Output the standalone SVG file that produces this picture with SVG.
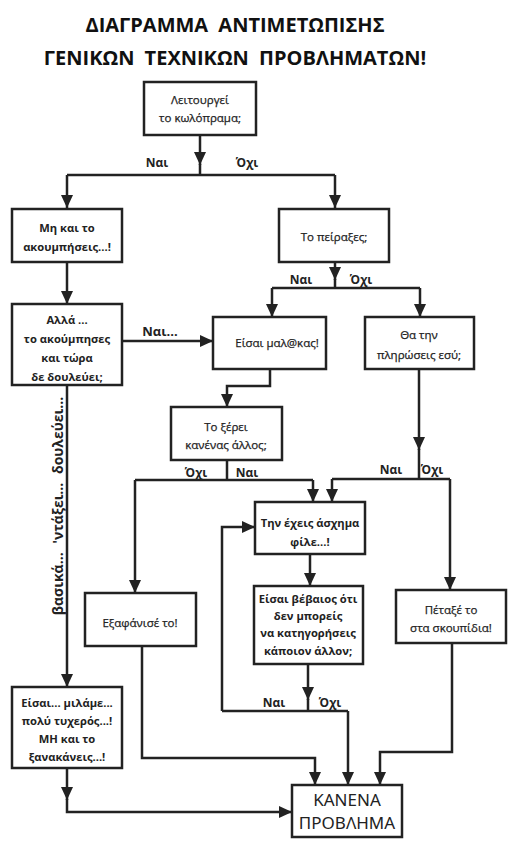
<svg xmlns="http://www.w3.org/2000/svg" width="516" height="850" viewBox="0 0 516 850">
<style>
.bx{fill:#fff;stroke:#222;stroke-width:2.5}
.t{font-family:"Open Sans","Noto Sans",sans-serif;font-size:11.5px;fill:#222;stroke:#222;stroke-width:0.25;text-anchor:middle}
.tb{font-family:"Open Sans","Noto Sans",sans-serif;font-size:11.2px;font-weight:bold;fill:#222;text-anchor:middle}
.lb{font-family:"Open Sans","Noto Sans",sans-serif;font-size:12px;font-weight:bold;fill:#222;text-anchor:middle}
.ttl{font-family:"Open Sans","Noto Sans",sans-serif;font-size:20px;font-weight:bold;fill:#111;text-anchor:middle;word-spacing:5px}
.big{font-family:"Noto Sans","Open Sans",sans-serif;font-size:17px;fill:#222;text-anchor:middle}
.c{fill:none;stroke:#222;stroke-width:2.5}
</style>
<defs>
<marker id="a" viewBox="0 0 13 12" refX="13" refY="6" markerWidth="13" markerHeight="12" markerUnits="userSpaceOnUse" orient="auto">
<path d="M0,0 L13,6 L0,12 z" fill="#222"/>
</marker>
</defs>
<rect width="516" height="850" fill="#fff"/>
<g id="title">
<text class="ttl" x="235" y="32">ΔΙΑΓΡΑΜΜΑ ΑΝΤΙΜΕΤΩΠΙΣΗΣ</text>
<text class="ttl" x="235" y="65">ΓΕΝΙΚΩΝ ΤΕΧΝΙΚΩΝ ΠΡΟΒΛΗΜΑΤΩΝ!</text>
</g>
<g id="connectors">
<path class="c" d="M200,135 V165" marker-end="url(#a)"/>
<path class="c" d="M200,164 V175 M67,175 H335"/>
<path class="c" d="M67,175 V208" marker-end="url(#a)"/>
<path class="c" d="M335,175 V208" marker-end="url(#a)"/>
<path class="c" d="M67,262 V304" marker-end="url(#a)"/>
<path class="c" d="M122,341 H213" marker-end="url(#a)"/>
<path class="c" d="M335,262 V280" marker-end="url(#a)"/>
<path class="c" d="M335,279 V288 M272,288 H420"/>
<path class="c" d="M272,288 V317" marker-end="url(#a)"/>
<path class="c" d="M420,288 V317" marker-end="url(#a)"/>
<path class="c" d="M270,369 V386 H227 V407" marker-end="url(#a)"/>
<path class="c" d="M227,460 V480 M135,480 H313"/>
<path class="c" d="M135,480 V593" marker-end="url(#a)"/>
<path class="c" d="M313,480 V502" marker-end="url(#a)"/>
<path class="c" d="M419,369 V450" marker-end="url(#a)"/>
<path class="c" d="M419,449 V479 M332,479 H450"/>
<path class="c" d="M332,479 V502" marker-end="url(#a)"/>
<path class="c" d="M450,479 V590" marker-end="url(#a)"/>
<path class="c" d="M310,554 V586" marker-end="url(#a)"/>
<path class="c" d="M308,664 V700" marker-end="url(#a)"/>
<path class="c" d="M308,699 V711 M222,711 H348"/>
<path class="c" d="M222,711 V527 H255" marker-end="url(#a)"/>
<path class="c" d="M348,711 V785" marker-end="url(#a)"/>
<path class="c" d="M142,646 V758 H315 V785" marker-end="url(#a)"/>
<path class="c" d="M452,643 V752 H380 V785" marker-end="url(#a)"/>
<path class="c" d="M67,385 V687" marker-end="url(#a)"/>
<path class="c" d="M67,768 V800" marker-end="url(#a)"/>
<path class="c" d="M67,799 V812 H292" marker-end="url(#a)"/>
<text class="lb" x="157" y="167">Ναι</text>
<text class="lb" x="247" y="167">Όχι</text>
<text class="lb" x="160" y="336" style="font-size:13px">Ναι...</text>
<text class="lb" x="301" y="284">Ναι</text>
<text class="lb" x="361" y="284">Όχι</text>
<text class="lb" x="196" y="477">Όχι</text>
<text class="lb" x="247" y="477">Ναι</text>
<text class="lb" x="391" y="474">Ναι</text>
<text class="lb" x="432" y="474">Όχι</text>
<text class="lb" x="274" y="707">Ναι</text>
<text class="lb" x="330" y="707">Όχι</text>
<text class="lb" transform="translate(63,506) rotate(-90)" style="font-size:14px;word-spacing:5px">βασικά... 'ντάξει... δουλεύει...</text>
</g>
<g id="n1"><rect class="bx" x="144" y="82" width="112" height="53"/>
<text class="t" x="200" y="104">Λειτουργεί</text><text class="t" x="200" y="122">το κωλόπραμα;</text></g>
<g id="n2"><rect class="bx" x="12" y="209" width="110" height="53"/>
<text class="tb" x="67" y="232">Μη και το</text><text class="tb" x="67" y="251">ακουμπήσεις...!</text></g>
<g id="n3"><rect class="bx" x="279" y="209" width="110" height="53"/>
<text class="t" x="334" y="241">Το πείραξες;</text></g>
<g id="n4"><rect class="bx" x="12" y="304" width="110" height="81"/>
<text class="tb" x="67" y="324">Αλλά ...</text><text class="tb" x="67" y="343">το ακούμπησες</text><text class="tb" x="67" y="362">και τώρα</text><text class="tb" x="67" y="381">δε δουλεύει;</text></g>
<g id="n5"><rect class="bx" x="213" y="317" width="113" height="52"/>
<text class="t" x="277" y="347">Είσαι μαλ@κας!</text></g>
<g id="n6"><rect class="bx" x="365" y="317" width="109" height="52"/>
<text class="t" x="419" y="339">Θα την</text><text class="t" x="419" y="359">πληρώσεις εσύ;</text></g>
<g id="n7"><rect class="bx" x="171" y="407" width="111" height="53"/>
<text class="t" x="226" y="431">Το ξέρει</text><text class="t" x="226" y="449">κανένας άλλος;</text></g>
<g id="n8"><rect class="bx" x="255" y="502" width="110" height="52"/>
<text class="tb" x="310" y="527">Την έχεις άσχημα</text><text class="tb" x="310" y="546">φίλε...!</text></g>
<g id="n9"><rect class="bx" x="85" y="593" width="111" height="53"/>
<text class="t" x="140" y="627">Εξαφάνισέ το!</text></g>
<g id="n10"><rect class="bx" x="254" y="586" width="109" height="78"/>
<text class="tb" x="308" y="603">Είσαι βέβαιος ότι</text><text class="tb" x="308" y="620">δεν μπορείς</text><text class="tb" x="308" y="637">να κατηγορήσεις</text><text class="tb" x="308" y="655">κάποιον άλλον;</text></g>
<g id="n11"><rect class="bx" x="396" y="590" width="110" height="53"/>
<text class="t" x="451" y="614">Πέταξέ το</text><text class="t" x="451" y="632">στα σκουπίδια!</text></g>
<g id="n12"><rect class="bx" x="12" y="687" width="110" height="81"/>
<text class="tb" x="67" y="707">Είσαι... μιλάμε...</text><text class="tb" x="67" y="725">πολύ τυχερός...!</text><text class="tb" x="67" y="743">ΜΗ και το</text><text class="tb" x="67" y="761">ξανακάνεις...!</text></g>
<g id="n13"><rect class="bx" x="292" y="785" width="110" height="52"/>
<text class="big" x="347" y="806">ΚΑΝΕΝΑ</text><text class="big" x="347" y="829">ΠΡΟΒΛΗΜΑ</text></g>
</svg>
